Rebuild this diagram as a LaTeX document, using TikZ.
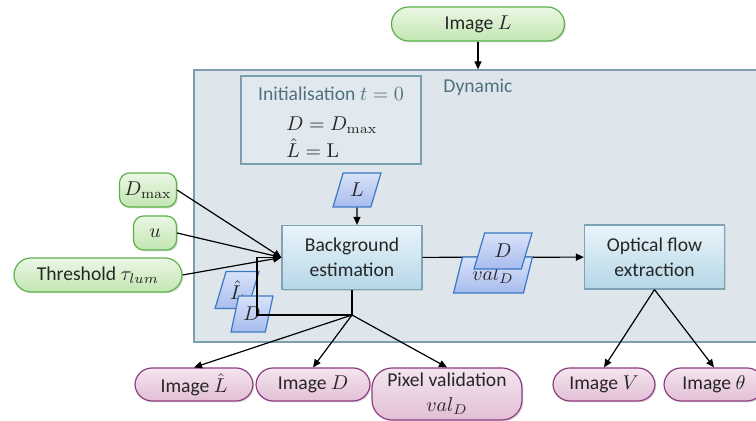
\documentclass[tikz,border=0pt]{standalone}
\usepackage[no-math]{fontspec}
\setmainfont{Carlito}
\usetikzlibrary{shapes.geometric, arrows.meta, shadows}

\definecolor{greenline}{HTML}{5CB24A}
\definecolor{greentop}{HTML}{EBF7E5}
\definecolor{greenbot}{HTML}{C2E6B2}
\definecolor{purpleline}{HTML}{8C3D80}
\definecolor{purpletop}{HTML}{F4E5EF}
\definecolor{purplebot}{HTML}{E2BFD6}
\definecolor{dataline}{HTML}{3B78C3}
\definecolor{datatop}{HTML}{D8E2F9}
\definecolor{databot}{HTML}{A8BCEE}
\definecolor{procline}{HTML}{7EA3B5}
\definecolor{proctop}{HTML}{E9F4FA}
\definecolor{procbot}{HTML}{B6D7E7}
\definecolor{dynline}{HTML}{7B9FB0}
\definecolor{dynfill}{HTML}{DFE6EB}
\definecolor{initfill}{HTML}{E2E9EE}
\definecolor{dyntext}{HTML}{50707F}

\begin{document}
\begin{tikzpicture}[x=0.5pt, y=-0.5pt,
    every node/.style={font=\fontsize{9.8}{12.5}\selectfont, text=black!85},
    shadowed/.style={drop shadow={shadow xshift=0.7pt, shadow yshift=-0.7pt, opacity=0.25}},
    inpill/.style={draw=greenline, line width=0.6pt, top color=greentop, bottom color=greenbot,
        rounded corners=8.5pt, minimum height=17pt, inner sep=1pt, shadowed},
    outpill/.style={draw=purpleline, line width=0.6pt, top color=purpletop, bottom color=purplebot,
        rounded corners=8.5pt, minimum height=16.5pt, inner sep=1pt, shadowed},
    procbox/.style={draw=procline, line width=0.6pt, top color=proctop, bottom color=procbot,
        minimum width=70pt, minimum height=32pt, align=center, shadowed},
    databox/.style={trapezium, trapezium left angle=70, trapezium right angle=110,
        trapezium stretches=true, draw=dataline, line width=0.6pt,
        top color=datatop, bottom color=databot, inner sep=0pt},
    link/.style={line width=0.6pt, -{Triangle[length=4pt, width=3.5pt]}}
]
\clip (0,0) rectangle (756,421);

% Input image
\node[inpill, minimum width=86.5pt] (imgL) at (478,24) {Image $L$};

% Dynamic part
\node[draw=dynline, fill=dynfill, line width=0.6pt, minimum width=291pt,
    minimum height=136pt, inner sep=0pt] (dyn) at (485,206) {};
\node[text=dyntext] (dynlabel) at (478,87) {Dynamic};
\draw[link] (imgL) -- (imgL |- dyn.north);

% Initialisation
\node[draw=dynline, fill=initfill, line width=0.6pt, minimum width=90pt,
    minimum height=44pt, shadowed] (init) at (331,120) {};
\node[text=dyntext] (inittitle) at (331,94) {Initialisation $t=0$};
\node[anchor=west, inner sep=0pt] (initD) at (286,125) {$D = D_{\mathrm{max}}$};
\node[anchor=west, inner sep=0pt] (initL) at (286,148) {$\hat{L} = \mathrm{L}$};

% Processing
\node[procbox] (bg) at (352,257.5) {Background\\estimation};
\node[procbox] (of) at (654.5,257) {Optical flow\\extraction};

\node[databox, minimum width=24pt, minimum height=17pt] (dataL) at (357,190) {$L$};
\draw[link] (dataL) -- (dataL |- bg.north);

\draw[link] (bg) -- (of);
\node[databox, minimum width=39.5pt, minimum height=18pt] (valD) at (493,275) {$val_D$};
\node[databox, minimum width=29pt, minimum height=18pt] (dataD) at (503,251) {$D$};

% Inputs
\node[inpill, rounded corners=5pt, minimum width=28.5pt] (dmax) at (148,190) {$D_{\mathrm{max}}$};
\node[inpill, rounded corners=5pt, minimum width=21.5pt] (u) at (155,233) {$u$};
\node[inpill, minimum width=84pt] (thr) at (98,275) {Threshold $\tau_{lum}$};
\foreach \n in {dmax,u,thr}
    \draw[link] (\n.east) -- (bg.west);

% Feedback
\node[databox, minimum width=22pt, minimum height=18.5pt] (fbL) at (237,290) {$\hat{L}$};
\node[databox, minimum width=21pt, minimum height=18pt] (fbD) at (252,314) {$D$};
\coordinate (split) at (352,315);
\coordinate (fbcorner) at (257,315);
\draw[line width=0.6pt] (bg.south) -- (split);
\draw[link] (split) -- (fbcorner) |- (bg.west);

% Outputs
\node[outpill, minimum width=59pt] (outL) at (194,384.5) {Image $\hat{L}$};
\node[outpill, minimum width=57pt] (outD) at (313,384.5) {Image $D$};
\node[outpill, minimum width=75pt, minimum height=26pt, rounded corners=10pt,
    align=center] (outval) at (447,394) {Pixel validation\\$val_D$};
\node[outpill, minimum width=51pt] (outV) at (604,384.5) {Image $V$};
\node[outpill, minimum width=50pt] (outT) at (714,384.5) {Image $\theta$};
\foreach \n in {outL,outD,outval}
    \draw[link] (split) -- (\n.north);
\foreach \n in {outV,outT}
    \draw[link] (of.south) -- (\n.north);
\end{tikzpicture}
\end{document}
